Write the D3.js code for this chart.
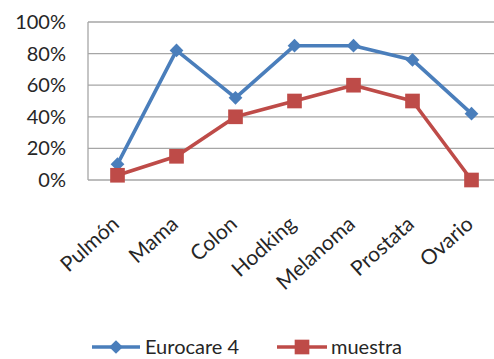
<!DOCTYPE html>
<html>
<head>
<meta charset="utf-8">
<script src="https://cdn.jsdelivr.net/npm/d3@7"></script>
<style>
  html, body { margin: 0; padding: 0; background: #fff; }
  svg { display: block; }
  text { font-family: Lato, "Open Sans", sans-serif; fill: #262626; }
</style>
</head>
<body>
<svg id="chart" width="494" height="359"></svg>
<script>
// Survival by cancer site
const categories = ["Pulmón", "Mama", "Colon", "Hodking", "Melanoma", "Prostata", "Ovario"];
const eurocare = [0.10, 0.82, 0.52, 0.85, 0.85, 0.76, 0.42];
const muestra = [0.03, 0.15, 0.40, 0.50, 0.60, 0.50, 0.00];
const yTicks = [0, 0.2, 0.4, 0.6, 0.8, 1.0];
const seriesNames = ["Eurocare 4", "muestra"];
const seriesColors = ["#4A7EBB", "#BE4B48"];

const svg = d3.select("#chart");
const plot = { left: 88, right: 501, top: 22, bottom: 180 };

const x = d3.scaleBand().domain(categories).range([plot.left, plot.right]);
const y = d3.scaleLinear().domain([0, 1]).range([plot.bottom, plot.top]);

// Horizontal gridlines
svg.append("g").selectAll("line").data(yTicks).join("line")
  .attr("x1", plot.left).attr("x2", plot.right)
  .attr("y1", d => y(d)).attr("y2", d => y(d))
  .attr("stroke", "#a6a6a6").attr("stroke-width", 1.3);

// Left axis line
svg.append("line")
  .attr("x1", plot.left).attr("x2", plot.left)
  .attr("y1", plot.top).attr("y2", plot.bottom)
  .attr("stroke", "#a6a6a6").attr("stroke-width", 1.3);

// Y tick labels
const fmt = d3.format(".0%");
svg.append("g").selectAll("text").data(yTicks).join("text")
  .attr("x", plot.left - 22).attr("y", d => y(d))
  .attr("dy", "0.35em").attr("text-anchor", "end")
  .attr("font-size", 20)
  .text(d => fmt(d));

// X category labels, rotated
svg.append("g").selectAll("text").data(categories).join("text")
  .attr("transform", d => `translate(${x(d) + x.bandwidth() / 2 + 3},${plot.bottom + 46}) rotate(-42)`)
  .attr("text-anchor", "end")
  .attr("font-size", 21)
  .text(d => d);

const cx = d => x(d) + x.bandwidth() / 2;
const line = d3.line().x(d => cx(d.c)).y(d => y(d.v));

const diamond = d3.symbol().type(d3.symbolDiamond2).size(120);
const square = d3.symbol().type(d3.symbolSquare).size(215);

[eurocare, muestra].forEach((vals, i) => {
  const pts = categories.map((c, j) => ({ c, v: vals[j] }));
  const g = svg.append("g");
  g.append("path").datum(pts)
    .attr("d", line).attr("fill", "none")
    .attr("stroke", seriesColors[i]).attr("stroke-width", 3.6)
    .attr("stroke-linejoin", "round");
  g.selectAll("path.m").data(pts).join("path").attr("class", "m")
    .attr("transform", d => `translate(${cx(d.c)},${y(d.v)})`)
    .attr("d", i === 0 ? diamond() : square())
    .attr("fill", seriesColors[i]);
});

// Legend
const legendY = 347;
const legendItems = [
  { x1: 92, x2: 140, tx: 145 },
  { x1: 277, x2: 327, tx: 331 }
];
legendItems.forEach((it, i) => {
  const g = svg.append("g");
  g.append("line").attr("x1", it.x1).attr("x2", it.x2)
    .attr("y1", legendY).attr("y2", legendY)
    .attr("stroke", seriesColors[i]).attr("stroke-width", 3.6);
  g.append("path")
    .attr("transform", `translate(${(it.x1 + it.x2) / 2},${legendY})`)
    .attr("d", i === 0 ? diamond() : square())
    .attr("fill", seriesColors[i]);
  g.append("text").attr("x", it.tx).attr("y", legendY).attr("dy", "0.35em")
    .attr("font-size", 20).text(seriesNames[i]);
});
</script>
</body>
</html>
